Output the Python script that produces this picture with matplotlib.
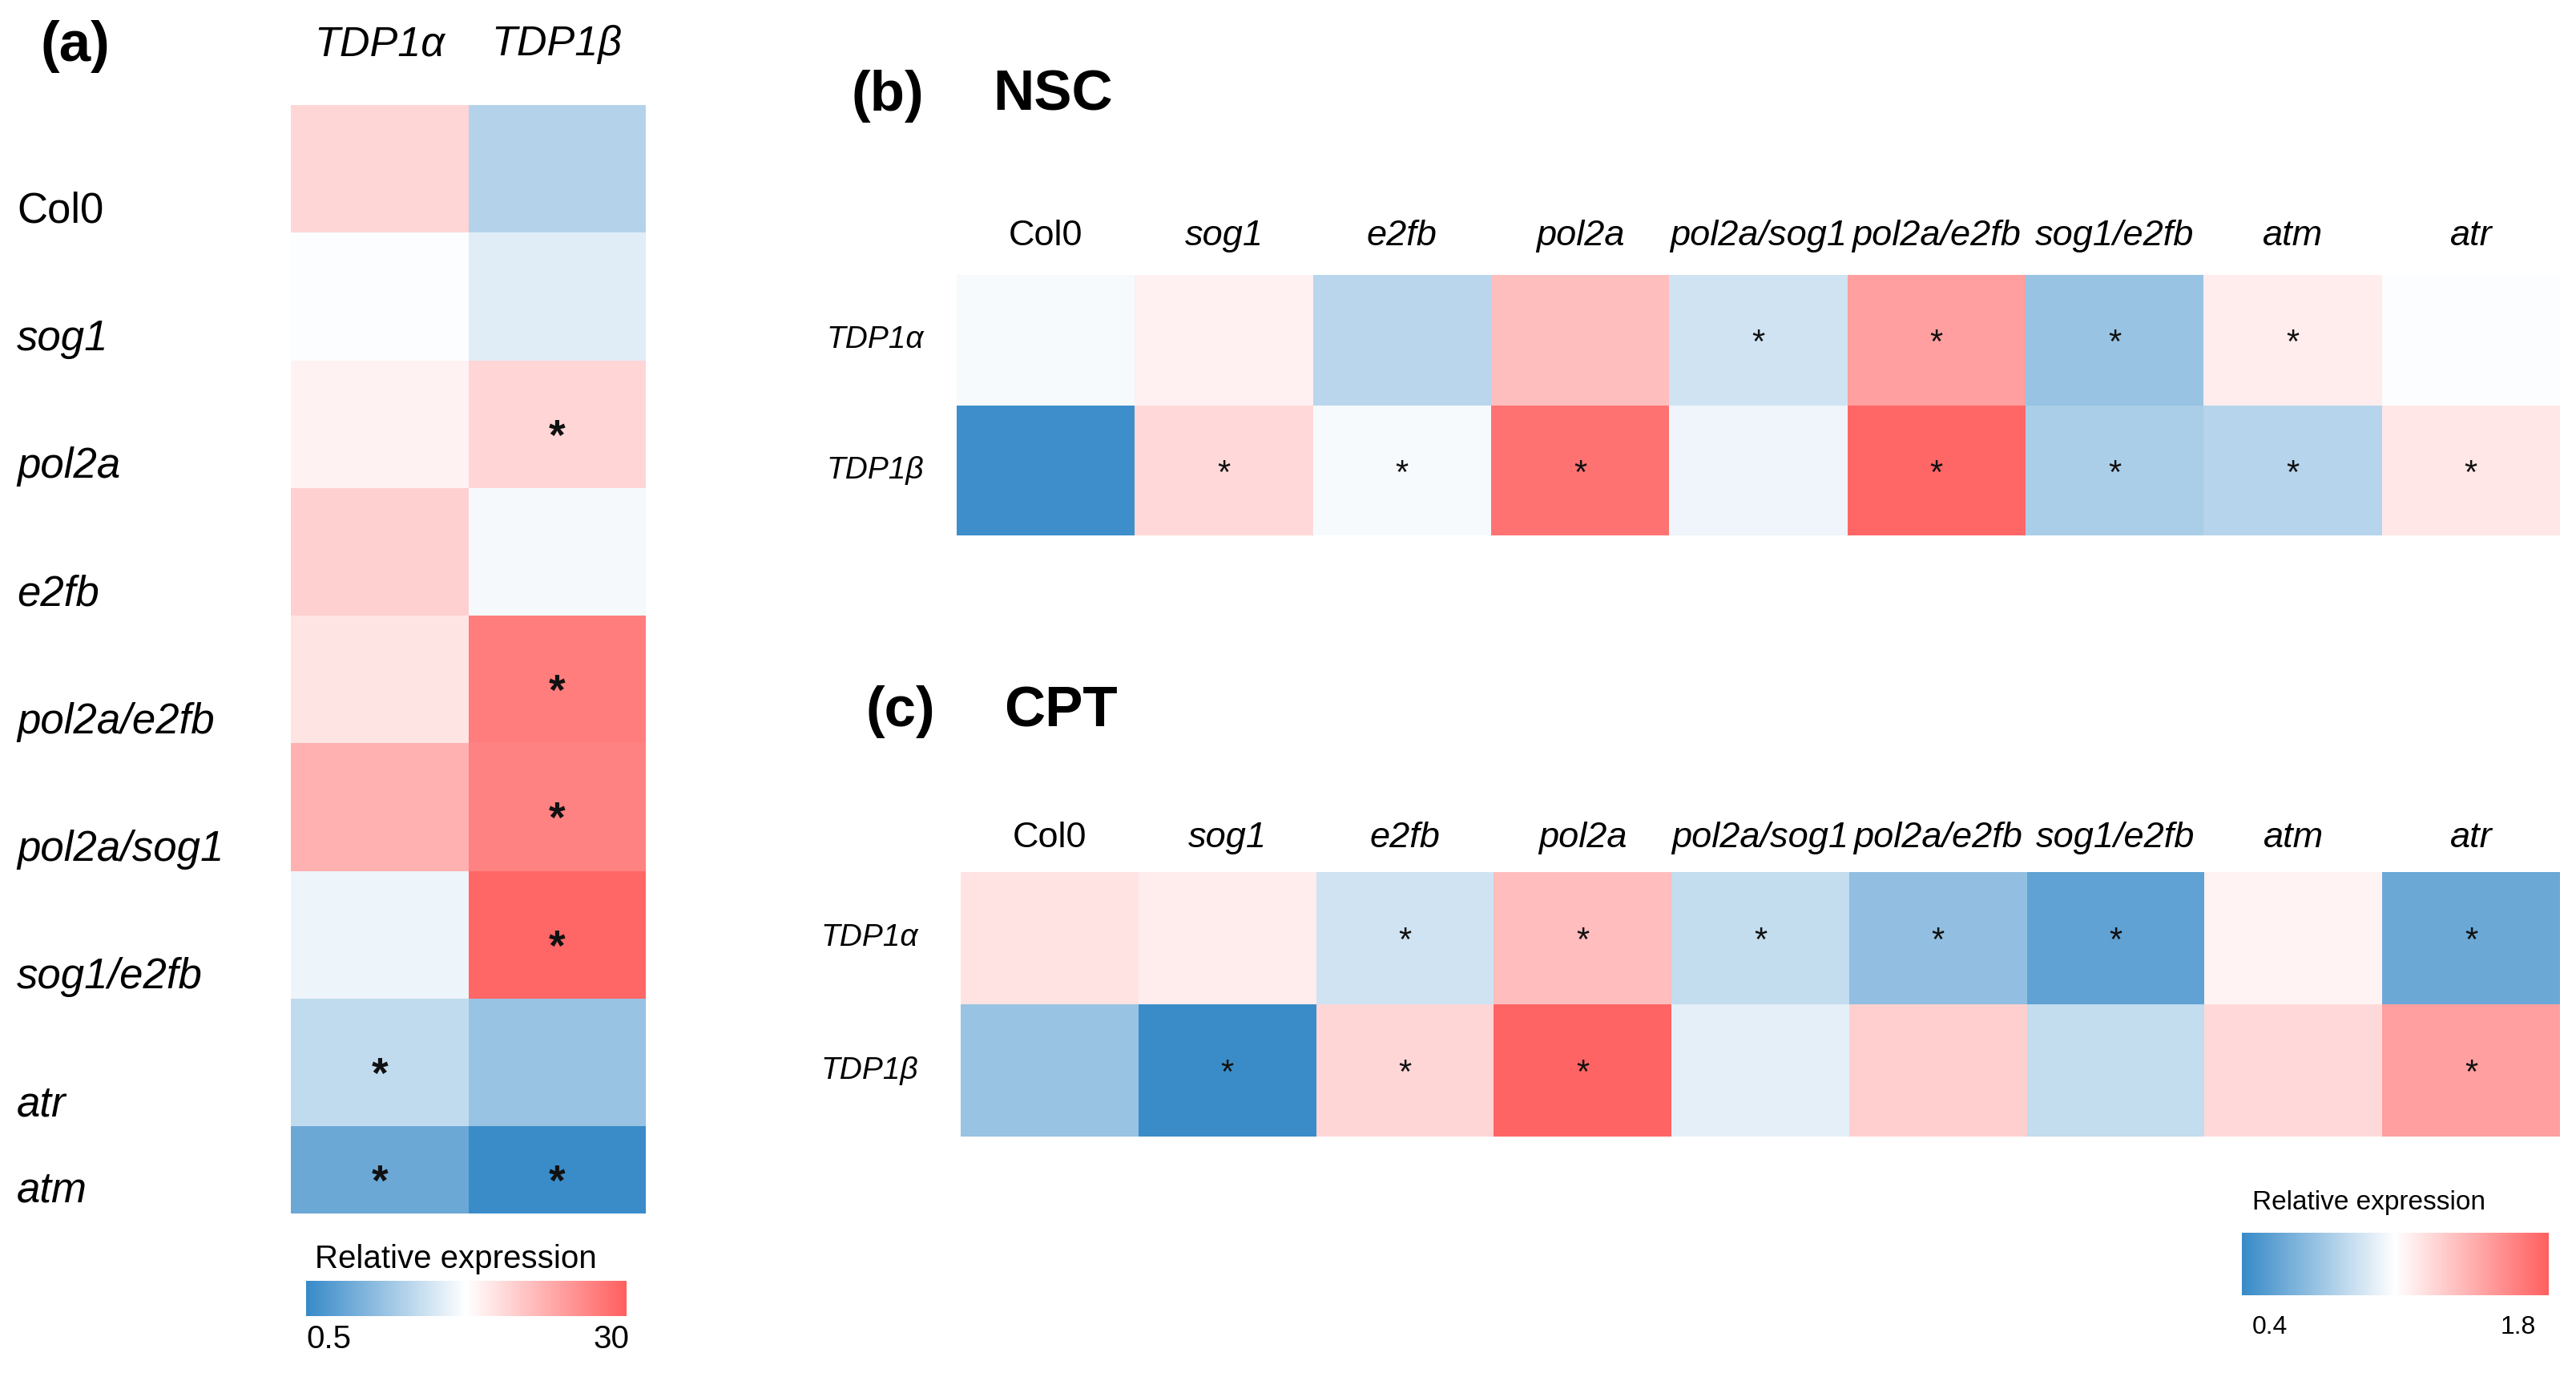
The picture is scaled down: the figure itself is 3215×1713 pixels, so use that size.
import numpy as np
import matplotlib
matplotlib.use('Agg')
import matplotlib.pyplot as plt
from matplotlib.colors import LinearSegmentedColormap, TwoSlopeNorm
from matplotlib.cm import ScalarMappable
from matplotlib.transforms import blended_transform_factory

plt.rcParams['font.family'] = ['Liberation Sans', 'DejaVu Sans']

# ---------------- data ----------------
# Panel (a): relative expression
a_genotypes = ['Col0', 'sog1', 'pol2a', 'e2fb', 'pol2a/e2fb', 'pol2a/sog1', 'sog1/e2fb', 'atr', 'atm']
a_genes = ['TDP1α', 'TDP1β']
a_tdp1a = [8.3, 0.99, 3.3, 9.4, 5.9, 15.2, 0.955, 0.845, 0.63]
a_tdp1b = [0.815, 0.925, 8.5, 0.975, 24.5, 23.6, 28.5, 0.745, 0.51]
a_sig_tdp1a = [0, 0, 0, 0, 0, 0, 0, 1, 1]
a_sig_tdp1b = [0, 0, 1, 0, 1, 1, 1, 0, 1]
a_range = [0.5, 1.0, 30]
a_tick_labels = ['0.5', '30']

# Panels (b) NSC and (c) CPT
bc_genotypes = ['Col0', 'sog1', 'e2fb', 'pol2a', 'pol2a/sog1', 'pol2a/e2fb', 'sog1/e2fb', 'atm', 'atr']
bc_genes = ['TDP1α', 'TDP1β']
nsc_tdp1a = [0.976, 1.07, 0.79, 1.32, 0.856, 1.48, 0.694, 1.09, 0.99]
nsc_tdp1b = [0.42, 1.19, 0.976, 1.70, 0.95, 1.76, 0.75, 0.78, 1.12]
nsc_sig_tdp1a = [0, 0, 0, 0, 1, 1, 1, 1, 0]
nsc_sig_tdp1b = [0, 1, 1, 1, 0, 1, 1, 1, 1]
cpt_tdp1a = [1.14, 1.09, 0.856, 1.33, 0.82, 0.676, 0.526, 1.06, 0.556]
cpt_tdp1b = [0.694, 0.41, 1.2, 1.77, 0.92, 1.24, 0.82, 1.19, 1.48]
cpt_sig_tdp1a = [0, 0, 1, 1, 1, 1, 1, 0, 1]
cpt_sig_tdp1b = [0, 1, 1, 1, 0, 0, 0, 0, 1]
bc_range = [0.4, 1.0, 1.8]
bc_tick_labels = ['0.4', '1.8']

# ---------------- style ----------------
W, H = 3215, 1713
DPI = 100
cmap = LinearSegmentedColormap.from_list('bwr_soft', [(0.0, '#378AC8'), (0.5, '#FFFFFF'), (1.0, '#FF5F5F')])
norm_a = TwoSlopeNorm(vmin=a_range[0], vcenter=a_range[1], vmax=a_range[2])
norm_bc = TwoSlopeNorm(vmin=bc_range[0], vcenter=bc_range[1], vmax=bc_range[2])

fig = plt.figure(figsize=(W / DPI, H / DPI), dpi=DPI)


def fr(x0, y0, x1, y1):
    """pixel box (top-left origin) -> figure fraction rect"""
    return [x0 / W, 1 - y1 / H, (x1 - x0) / W, (y1 - y0) / H]


def italic_style(name):
    return 'normal' if name == 'Col0' else 'italic'


# ---------------- panel (a) ----------------
ax_a = fig.add_axes(fr(363, 131, 806, 1514))
row_h = [1.0] * 8 + [0.684]
y_edges = np.concatenate([[0], np.cumsum(row_h)])
x_edges = np.arange(len(a_genes) + 1)
data_a = np.column_stack([a_tdp1a, a_tdp1b])
sig_a = np.column_stack([a_sig_tdp1a, a_sig_tdp1b])
ax_a.pcolormesh(x_edges, y_edges, data_a, cmap=cmap, norm=norm_a, edgecolor='none')
ax_a.set_xlim(0, len(a_genes))
ax_a.set_ylim(y_edges[-1], 0)
ax_a.axis('off')
tr = blended_transform_factory(ax_a.transData, ax_a.transAxes)
for j, g in enumerate(a_genes):
    ax_a.text(j + 0.5, 1.0448, g, transform=tr, ha='center', va='baseline',
              fontsize=37.5, fontstyle='italic')
tr = blended_transform_factory(ax_a.transAxes, ax_a.transData)
for i, g in enumerate(a_genotypes):
    yb = min(i + 0.92, y_edges[-1] - 0.09)
    ax_a.text(-0.772, yb, g, transform=tr, ha='left', va='baseline',
              fontsize=38, fontstyle=italic_style(g))
for i in range(len(a_genotypes)):
    yc = (y_edges[i] + y_edges[i + 1]) / 2
    for j in range(len(a_genes)):
        if sig_a[i, j]:
            ax_a.text(j + 0.5, yc + 0.11, '*', ha='center', va='center',
                      fontsize=38, fontweight='bold', color='#111111')

fig.text(51 / W, 1 - 76 / H, '(a)', fontsize=51, fontweight='bold', ha='left', va='baseline')

# colorbar (a)
cax_a = fig.add_axes(fr(382, 1598, 782, 1642))
cb = fig.colorbar(ScalarMappable(norm=norm_a, cmap=cmap), cax=cax_a, orientation='horizontal')
cb.outline.set_visible(False)
cb.set_ticks([])
cax_a.tick_params(length=0)
fig.text(393 / W, 1 - 1582 / H, 'Relative expression', fontsize=29, ha='left', va='baseline')
fig.text(382 / W, 1 - 1682 / H, a_tick_labels[0], fontsize=29, ha='left', va='baseline')
fig.text(785 / W, 1 - 1682 / H, a_tick_labels[1], fontsize=29, ha='right', va='baseline')


# ---------------- panels (b) and (c) ----------------
def bc_panel(box, tdp1a, tdp1b, siga, sigb, col_base_y, row_label_x):
    ax = fig.add_axes(fr(*box))
    data = np.vstack([tdp1a, tdp1b])
    sig = np.vstack([siga, sigb])
    ax.pcolormesh(np.arange(len(bc_genotypes) + 1), np.arange(len(bc_genes) + 1), data,
                  cmap=cmap, norm=norm_bc, edgecolor='none')
    ax.set_xlim(0, len(bc_genotypes))
    ax.set_ylim(len(bc_genes), 0)
    ax.axis('off')
    t1 = blended_transform_factory(ax.transData, ax.transAxes)
    for j, g in enumerate(bc_genotypes):
        ax.text(j + 0.5, col_base_y, g, transform=t1, ha='center', va='baseline',
                fontsize=32.5, fontstyle=italic_style(g))
    t2 = blended_transform_factory(ax.transAxes, ax.transData)
    for i, g in enumerate(bc_genes):
        ax.text(row_label_x, i + 0.5, g, transform=t2, ha='left', va='center',
                fontsize=28, fontstyle='italic')
    for i in range(len(bc_genes)):
        for j in range(len(bc_genotypes)):
            if sig[i, j]:
                ax.text(j + 0.5, i + 0.53, '*', ha='center', va='center',
                        fontsize=30, color='#111111')
    return ax


bc_panel((1194, 343, 3195, 668), nsc_tdp1a, nsc_tdp1b, nsc_sig_tdp1a, nsc_sig_tdp1b, 1.114, -0.081)
fig.text(1063 / W, 1 - 138 / H, '(b)', fontsize=51, fontweight='bold', ha='left', va='baseline')
fig.text(1239 / W, 1 - 138 / H, 'NSC', fontsize=51, fontweight='bold', ha='left', va='baseline')

bc_panel((1199, 1088, 3195, 1418), cpt_tdp1a, cpt_tdp1b, cpt_sig_tdp1a, cpt_sig_tdp1b, 1.094, -0.0872)
fig.text(1081 / W, 1 - 906 / H, '(c)', fontsize=51, fontweight='bold', ha='left', va='baseline')
fig.text(1253 / W, 1 - 906 / H, 'CPT', fontsize=51, fontweight='bold', ha='left', va='baseline')

# colorbar (b/c)
cax_bc = fig.add_axes(fr(2798, 1538, 3181, 1616))
cb2 = fig.colorbar(ScalarMappable(norm=norm_bc, cmap=cmap), cax=cax_bc, orientation='horizontal')
cb2.outline.set_visible(False)
cb2.set_ticks([])
cax_bc.tick_params(length=0)
fig.text(2811 / W, 1 - 1509 / H, 'Relative expression', fontsize=24, ha='left', va='baseline')
fig.text(2811 / W, 1 - 1664 / H, bc_tick_labels[0], fontsize=23, ha='left', va='baseline')
fig.text(3165 / W, 1 - 1664 / H, bc_tick_labels[1], fontsize=23, ha='right', va='baseline')

fig.savefig('out.png', dpi=DPI, facecolor='white')
